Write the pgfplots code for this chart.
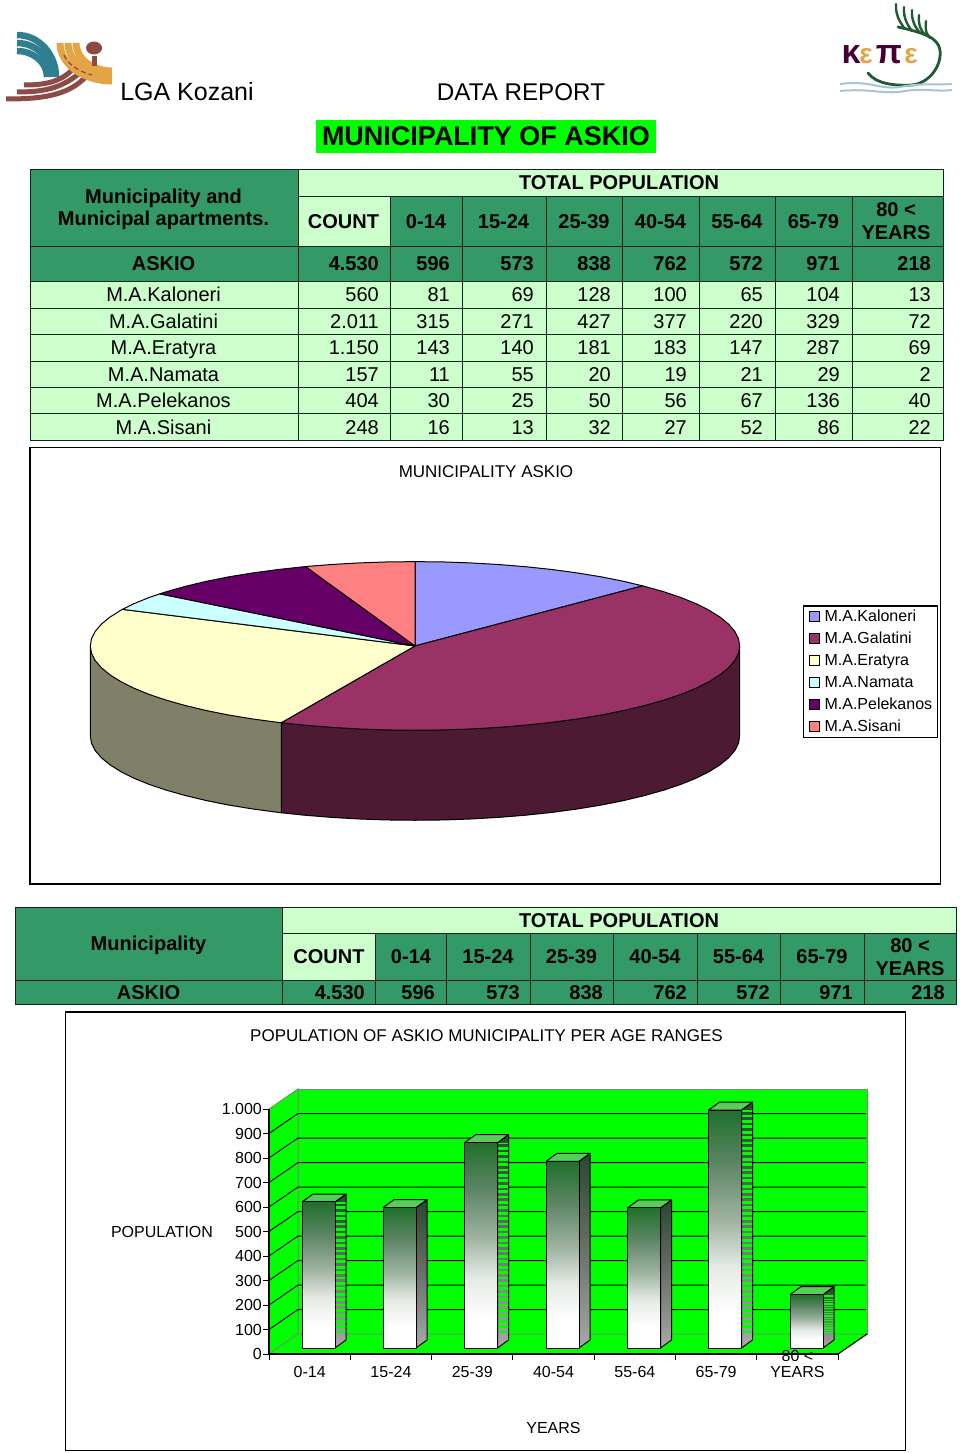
\documentclass[border=0pt]{standalone}
\usepackage{fontspec}
\setmainfont{Liberation Sans}
\usepackage{pgfplots}
\pgfplotsset{compat=1.18}
\definecolor{tg}{HTML}{339966}
\definecolor{tl}{HTML}{CCFFCC}
\definecolor{wall}{HTML}{00FF00}
\pgfdeclareverticalshading{barfront}{100bp}{rgb(0bp)=(1,1,1); rgb(32bp)=(1,1,1); rgb(42bp)=(.9,.92,.9); rgb(52bp)=(.62,.70,.63); rgb(64bp)=(.36,.52,.39); rgb(75bp)=(.12,.44,.17); rgb(100bp)=(.12,.44,.17)}
\pgfdeclareverticalshading{barside}{100bp}{rgb(0bp)=(.66,.66,.66); rgb(25bp)=(.66,.66,.66); rgb(50bp)=(.42,.44,.42); rgb(75bp)=(.16,.28,.18); rgb(100bp)=(.16,.28,.18)}
\newcommand\fs[1]{\fontsize{#1}{#1}\selectfont}
% xl xc xr xs xb xm value value+depth stripe-style
\newcommand\threed[9]{%
  \addplot[forget plot,shade,shading=barside,draw=none] coordinates {(#3,0)(#4,32.6)(#4,#8)(#3,#7)(#3,0)};
  \addplot[forget plot,#9] coordinates {(#6,60)(#6,#7)};
  \addplot[forget plot,draw=black,line width=1pt,line join=round] coordinates {(#3,0)(#4,32.6)(#4,#8)(#3,#7)(#3,0)};
  \addplot[forget plot,fill=\topc,draw=black,line width=1pt,line join=round] coordinates {(#1,#7)(#3,#7)(#4,#8)(#5,#8)(#1,#7)};
  \addplot[forget plot,ybar,bar shift=0pt,bar width=33pt,shade,shading=barfront,draw=black,line width=1pt] coordinates {(#2,#7)};
}
\begin{document}
\begin{tikzpicture}
\useasboundingbox (0,0) rectangle (960pt,-1453pt);
\begin{scope}[x=1pt,y=-1pt]
% ---------- logos
\definecolor{lt}{HTML}{2F7F90}\definecolor{lo}{HTML}{E2A445}\definecolor{lb}{HTML}{8C4B45}
\foreach \rx/\ry/\s in {39/42/35,34.5/34/43,30/26/51}
  \draw[lt,line width=6.5pt] (17,\s) arc[start angle=90,end angle=0,x radius=\rx pt,y radius=\ry pt];
\draw[lb,line width=5pt] (6,99) .. controls (45,99) and (72,95) .. (90,72);
\draw[lb,line width=5pt] (17,92) .. controls (45,92) and (62,88) .. (81,72);
\draw[lb,line width=5pt] (24,85) .. controls (45,85) and (60,82) .. (72,70);
\foreach \s/\rx/\ry in {60/52/38,68/44/33,76/36/28}
  \draw[lo,line width=7pt] (\s,43) arc[start angle=180,end angle=270,x radius=\rx pt,y radius=\ry pt];
\draw[lb,line width=1.2pt,dash pattern=on 5pt off 3pt] (64,55) .. controls (68,65) and (80,72) .. (92,75);
\fill[lb] (94,48) ellipse [x radius=8pt,y radius=6.5pt];
\fill[lb] (92,56) rectangle (97,66);
\definecolor{pg}{HTML}{1E5A32}
\draw[pg,line width=2.8pt,line cap=round] (868,73) .. controls (876,84) and (895,86) .. (912,85) .. controls (930,83) and (942,65) .. (940,50) .. controls (938,38) and (925,33) .. (898,27);
\foreach \a/\b/\c/\d in {896/4/905/29,904/7/912/31,912/10/920/33,919/15/925/35,926/21/930/38}
  \draw[pg,line width=2.4pt,line cap=round] (\a,\b) .. controls (\a-1,\b+12) and (\c-3,\d-4) .. (\c,\d);
\node[text=black!65!red!80!blue,anchor=base] at (851,64) {\fs{34}\textbf{κ}};
\node[text=lo,anchor=base] at (866,64) {\fs{28}\textbf{ε}};
\node[text=black!65!red!80!blue,anchor=base] at (889,64) {\fs{34}\textbf{π}};
\node[text=lo,anchor=base] at (911,64) {\fs{28}\textbf{ε}};
\draw[cyan!40!gray!60,line width=2pt] (840,84) .. controls (870,80) and (880,90) .. (900,87) .. controls (920,83) and (935,85) .. (952,84);
\draw[cyan!40!gray!60,line width=2pt] (840,91) .. controls (870,88) and (885,95) .. (905,91) .. controls (925,88) and (935,92) .. (952,90);
% ---------- titles
\node[anchor=base] at (187,101) {\fs{25}LGA Kozani};
\node[anchor=base] at (521,101) {\fs{24.2}DATA REPORT};
\fill[wall] (316,120.5) rectangle (656,152.5);
\node[anchor=base] at (486,146) {\fs{27}\bfseries MUNICIPALITY OF ASKIO};
% ---------- table 1
\tikzset{tl/.style={draw=black!75!tg,line width=.9pt}}
\filldraw[tl,fill=tg] (30,169.5) rectangle (298,246);
\filldraw[tl,fill=tl] (298,169.5) rectangle (943.5,196);
\filldraw[tl,fill=tl] (298,196) rectangle (390,246);
\filldraw[tl,fill=tg] (390,196) rectangle (943.5,246);
\foreach \x in {462.5,546,622.5,699,775.5,852} \draw[tl] (\x,196) -- (\x,246);
\filldraw[tl,fill=tg] (30,246) rectangle (943.5,281.5);
\foreach \x in {298,390,462.5,546,622.5,699,775.5,852} \draw[tl] (\x,246) -- (\x,281.5);
\filldraw[tl,fill=tl] (30,281.5) rectangle (943.5,440);
\foreach \y in {308,334.5,361,387,413.5} \draw[tl] (30,\y) -- (943.5,\y);
\foreach \x in {298,390,462.5,546,622.5,699,775.5,852} \draw[tl] (\x,281.5) -- (\x,440);
\node[anchor=base] at (163.5,203) {\fs{20}\bfseries Municipality and};
\node[anchor=base] at (163.5,225.5) {\fs{20}\bfseries Municipal apartments.};
\node[anchor=base] at (619,189) {\fs{20}\bfseries TOTAL POPULATION};
\foreach \x/\t in {343.5/COUNT,426/0-14,503.5/15-24,584/25-39,660.5/40-54,737/55-64,813.5/65-79}
  \node[anchor=base] at (\x,228) {\fs{20}\bfseries \t};
\node[anchor=base] at (896,216) {\fs{20}\bfseries 80 <};
\node[anchor=base] at (896,239) {\fs{20}\bfseries YEARS};
\node[anchor=base] at (163.5,270.5) {\fs{20}\bfseries ASKIO};
\foreach \xr/\v in {379/4.530,450/596,534/573,611/838,687/762,763/572,840/971,931/218}
  \node[anchor=base east,inner xsep=0pt] at (\xr,270.5) {\fs{20}\bfseries \v};
\foreach \y/\n/\a/\b/\c/\d/\e/\f/\g/\h in {
  301.5/M.A.Kaloneri/560/81/69/128/100/65/104/13,
  328/M.A.Galatini/2.011/315/271/427/377/220/329/72,
  354.5/M.A.Eratyra/1.150/143/140/181/183/147/287/69,
  381/M.A.Namata/157/11/55/20/19/21/29/2,
  407.5/M.A.Pelekanos/404/30/25/50/56/67/136/40,
  434/M.A.Sisani/248/16/13/32/27/52/86/22}{
  \node[anchor=base] at (163.5,\y) {\fs{20}\n};
  \foreach \xr/\v in {379/\a,450/\b,534/\c,611/\d,687/\e,763/\f,840/\g,931/\h}
    \node[anchor=base east,inner xsep=0pt] at (\xr,\y) {\fs{20}\v};
}
% ---------- pie frame
\draw[black,line width=1.8pt] (30,447.5) rectangle (940.5,884);
\node[anchor=base] at (486,477) {\fs{17}MUNICIPALITY ASKIO};
% ---------- table 2
\filldraw[tl,fill=tg] (15.5,907.5) rectangle (282.5,980);
\filldraw[tl,fill=tl] (282.5,907.5) rectangle (956,933.5);
\filldraw[tl,fill=tl] (282.5,933.5) rectangle (375.5,980);
\filldraw[tl,fill=tg] (375.5,933.5) rectangle (956,980);
\foreach \x in {446,530,613,697,780,864} \draw[tl] (\x,933.5) -- (\x,980);
\filldraw[tl,fill=tg] (15.5,980) rectangle (956,1004);
\foreach \x in {282.5,375.5,446,530,613,697,780,864} \draw[tl] (\x,980) -- (\x,1004);
\node[anchor=base] at (148.5,950) {\fs{20}\bfseries Municipality};
\node[anchor=base] at (619,927) {\fs{20}\bfseries TOTAL POPULATION};
\foreach \x/\t in {329/COUNT,411/0-14,488/15-24,571.5/25-39,655/40-54,738.5/55-64,822/65-79}
  \node[anchor=base] at (\x,963) {\fs{20}\bfseries \t};
\node[anchor=base] at (910,952) {\fs{20}\bfseries 80 <};
\node[anchor=base] at (910,975) {\fs{20}\bfseries YEARS};
\node[anchor=base] at (148.5,999) {\fs{20}\bfseries ASKIO};
\foreach \xr/\v in {365/4.530,435/596,520/573,603/838,687/762,770/572,853/971,945/218}
  \node[anchor=base east,inner xsep=0pt] at (\xr,999) {\fs{20}\bfseries \v};
% ---------- bar frame
\draw[black,line width=1.8pt] (65.5,1012) rectangle (905.5,1450.5);
\node[anchor=base] at (486.5,1041) {\fs{17}POPULATION OF ASKIO MUNICIPALITY PER AGE RANGES};
\node[anchor=base] at (162,1237) {\fs{16}POPULATION};
\node[anchor=base] at (553.5,1433) {\fs{16}YEARS};
\end{scope}
% ---------- pie: page-sized axis, origin at the pie centre, depth 90
\begin{axis}[at={(0pt,-1453pt)},anchor=south west,scale only axis,width=960pt,height=1453pt,
  xmin=-415,xmax=545,ymin=-807,ymax=646,hide axis,clip=false,
  legend style={at={(axis cs:388,40.5)},anchor=north west,draw=black,line width=1.3pt,
    font=\fs{16},row sep=9.2pt,inner xsep=5pt,inner ysep=4pt,
    nodes={inner sep=0pt,anchor=west},column sep=5pt},
  legend cell align=left,
  legend image code/.code={\draw[#1,line width=.9pt] (0pt,-5pt) rectangle (10pt,5pt);}]
\addplot[forget plot,fill=black!70!red!50!blue!65,fill={rgb,255:red,77;green,26;blue,51},draw=black,line width=1pt] coordinates {
 (324.7,0)(324.7,-90)(323.5,-97.3)(319.8,-104.6)(313.6,-111.8)(305.1,-118.8)(294.3,-125.6)(281.2,-132.2)(266,-138.4)(248.7,-144.2)(229.6,-149.6)(208.7,-154.6)(186.2,-159.1)(162.4,-163)(137.2,-166.4)(111,-169.2)(84,-171.4)(56.4,-173)(28.3,-174)(0,-174.3)(-28.3,-174)(-56.4,-173)(-84,-171.4)(-111,-169.2)(-133.7,-166.8)(-133.7,0)(324.7,0)};
\addplot[forget plot,fill={rgb,255:red,128;green,128;blue,104},draw=black,line width=1pt] coordinates {
 (-133.7,0)(-133.7,-166.8)(-137.2,-166.4)(-162.4,-163)(-186.2,-159.1)(-208.7,-154.6)(-229.6,-149.6)(-248.7,-144.2)(-266,-138.4)(-281.2,-132.2)(-294.3,-125.6)(-305.1,-118.8)(-313.6,-111.8)(-319.8,-104.6)(-323.5,-97.3)(-324.7,-90)(-324.7,0)(-133.7,0)};
\addplot[fill={rgb,255:red,153;green,153;blue,255},draw=black,line width=1pt,line join=round] coordinates {
 (0,0)(0,84.3)(28.3,84)(56.4,83)(84,81.4)(111,79.2)(137.2,76.4)(162.4,73)(186.2,69.1)(208.7,64.6)(227.6,60.1)(0,0)};
\addlegendentry{M.A.Kaloneri}
\addplot[fill={rgb,255:red,153;green,51;blue,102},draw=black,line width=1pt,line join=round] coordinates {
 (0,0)(227.6,60.1)(229.6,59.6)(248.7,54.2)(266,48.4)(281.2,42.2)(294.3,35.6)(305.1,28.8)(313.6,21.8)(319.8,14.6)(323.5,7.3)(324.7,0)(323.5,-7.3)(319.8,-14.6)(313.6,-21.8)(305.1,-28.8)(294.3,-35.6)(281.2,-42.2)(266,-48.4)(248.7,-54.2)(229.6,-59.6)(208.7,-64.6)(186.2,-69.1)(162.4,-73)(137.2,-76.4)(111,-79.2)(84,-81.4)(56.4,-83)(28.3,-84)(0,-84.3)(-28.3,-84)(-56.4,-83)(-84,-81.4)(-111,-79.2)(-133.7,-76.8)(0,0)};
\addlegendentry{M.A.Galatini}
\addplot[fill={rgb,255:red,255;green,255;blue,204},draw=black,line width=1pt,line join=round] coordinates {
 (0,0)(-133.7,-76.8)(-137.2,-76.4)(-162.4,-73)(-186.2,-69.1)(-208.7,-64.6)(-229.6,-59.6)(-248.7,-54.2)(-266,-48.4)(-281.2,-42.2)(-294.3,-35.6)(-305.1,-28.8)(-313.6,-21.8)(-319.8,-14.6)(-323.5,-7.3)(-324.7,0)(-323.5,7.3)(-319.8,14.6)(-313.6,21.8)(-305.1,28.8)(-294.3,35.6)(-292.6,36.6)(0,0)};
\addlegendentry{M.A.Eratyra}
\addplot[fill={rgb,255:red,204;green,255;blue,255},draw=black,line width=1pt,line join=round] coordinates {
 (0,0)(-292.6,36.6)(-281.2,42.2)(-266,48.4)(-255.1,52.1)(0,0)};
\addlegendentry{M.A.Namata}
\addplot[fill={rgb,255:red,102;green,0;blue,102},draw=black,line width=1pt,line join=round] coordinates {
 (0,0)(-255.1,52.1)(-248.7,54.2)(-229.6,59.6)(-208.7,64.6)(-186.2,69.1)(-162.4,73)(-137.2,76.4)(-111,79.2)(-109.5,79.4)(0,0)};
\addlegendentry{M.A.Pelekanos}
\addplot[fill={rgb,255:red,255;green,128;blue,128},draw=black,line width=1pt,line join=round] coordinates {
 (0,0)(-109.5,79.4)(-84,81.4)(-56.4,83)(-28.3,84)(0,84.3)(0,0)};
\addlegendentry{M.A.Sisani}
\end{axis}
% ---------- bar chart: walls, floor, grid and scale
\begin{axis}[at={(269pt,-1354pt)},anchor=south west,scale only axis,width=569pt,height=245pt,
  xmin=269,xmax=838,ymin=0,ymax=1000,clip=false,axis on top,
  axis lines*=left,axis line style={black,line width=1.1pt},
  tick style={black,line width=1pt},tick align=outside,major tick length=6pt,
  xtick={269,350.3,431.6,512.9,594.2,675.5,756.8,838},
  x tick label as interval,
  xticklabels={0-14,15-24,25-39,40-54,55-64,65-79,{80 <\\YEARS}},
  xticklabel style={align=center,font=\fs{16},yshift=-2pt,text height=12pt},
  ytick={0,100,...,1000},
  yticklabel style={font=\fs{16},/pgf/number format/assume math mode=true,/pgf/number format/1000 sep={.},inner sep=0pt,xshift=-1pt},
  minor tick num=0]
\addplot[fill=wall,draw=gray!80!green,line width=1pt] coordinates {(269,0)(269,1000)(298,1081.6)(298,81.6)(269,0)};
\addplot[fill=wall,draw=gray!80!green,line width=1pt] coordinates {(298,81.6)(298,1081.6)(867,1081.6)(867,81.6)(298,81.6)};
\addplot[fill=wall,draw=gray!80!green,line width=1pt] coordinates {(269,0)(298,81.6)(867,81.6)(838,0)(269,0)};
\addplot[black,line width=1pt] coordinates {(838,0)(867,81.6)};
\addplot[black,line width=1pt] coordinates {(269,100)(298,181.6)(866,181.6)};
\addplot[black,line width=1pt] coordinates {(269,200)(298,281.6)(866,281.6)};
\addplot[black,line width=1pt] coordinates {(269,300)(298,381.6)(866,381.6)};
\addplot[black,line width=1pt] coordinates {(269,400)(298,481.6)(866,481.6)};
\addplot[black,line width=1pt] coordinates {(269,500)(298,581.6)(866,581.6)};
\addplot[black,line width=1pt] coordinates {(269,600)(298,681.6)(866,681.6)};
\addplot[black,line width=1pt] coordinates {(269,700)(298,781.6)(866,781.6)};
\addplot[black,line width=1pt] coordinates {(269,800)(298,881.6)(866,881.6)};
\addplot[black,line width=1pt] coordinates {(269,900)(298,981.6)(866,981.6)};
\end{axis}
% ---------- bars: baseline 6 px behind the front of the floor
\begin{axis}[at={(269pt,-1348pt)},anchor=south west,scale only axis,width=569pt,height=245pt,
  xmin=269,xmax=838,ymin=0,ymax=1000,clip=false,hide axis,
  stripeA/.style={draw=wall,line width=10pt,dash pattern=on 2.8pt off 2.6pt},
  stripeB/.style={draw=wall,line width=10pt,dash pattern=on 1.2pt off 1.2pt},
  stripeN/.style={draw=none}]
\def\topc{green!55!gray!85}
\threed{302}{318.5}{335}{346}{313}{340.5}{596}{628.6}{stripeA}
\def\topc{gray!55}
\threed{383}{399.5}{416}{427}{394}{421.5}{573}{605.6}{stripeN}
\def\topc{green!40!gray!70}
\threed{464.5}{481}{497.5}{508.5}{475.5}{503}{838}{870.6}{stripeA}
\def\topc{gray!55}
\threed{546}{562.5}{579}{590}{557}{584.5}{762}{794.6}{stripeN}
\def\topc{gray!55}
\threed{627.5}{644}{660.5}{671.5}{638.5}{666}{572}{604.6}{stripeN}
\def\topc{green!55!gray!85}
\threed{708.5}{725}{741.5}{752.5}{719.5}{747}{971}{1003.6}{stripeA}
\def\topc{green!55!gray!85}
\threed{790}{806.5}{823}{834}{801}{828.5}{218}{250.6}{stripeB}
\end{axis}
\end{tikzpicture}
\end{document}
